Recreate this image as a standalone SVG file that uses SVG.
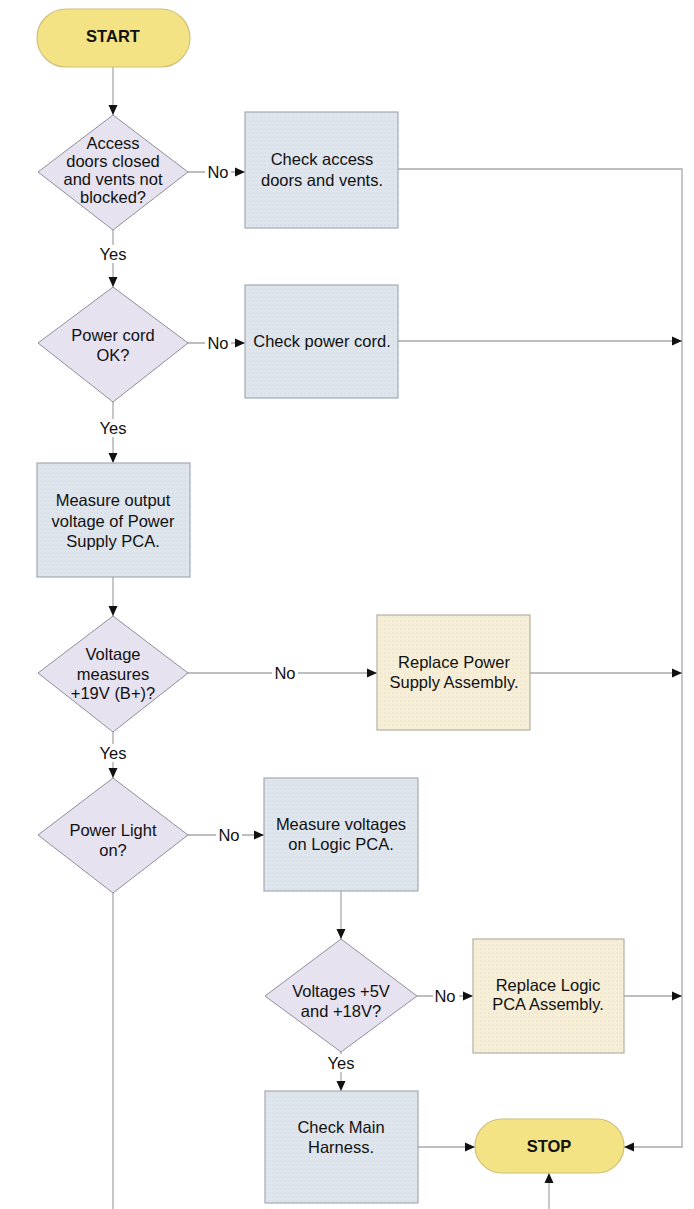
<svg xmlns="http://www.w3.org/2000/svg" width="694" height="1209" viewBox="0 0 694 1209">
<defs>
<style>
.t{font-family:"Liberation Sans",Arial,Helvetica,sans-serif;font-size:16.5px;fill:#111111;text-anchor:middle}
.b{font-weight:bold}
.pill{fill:#f4e384;stroke:#cfc07a;stroke-width:1.2}
.dia{fill:#e6e2f0;stroke:#8f8f9c;stroke-width:1}
.box{fill:url(#dotB);stroke:#a4abb4;stroke-width:1.2}
.tan{fill:url(#dotT);stroke:#b5b0a2;stroke-width:1.2}
.c{fill:none;stroke:#a9a9a9;stroke-width:1.3}
.lbl{fill:#ffffff}
</style>
<pattern id="dotB" width="4" height="4" patternUnits="userSpaceOnUse">
<rect width="4" height="4" fill="#dfe5ec"/>
<circle cx="1" cy="1" r="0.6" fill="#cbd2db"/>
</pattern>
<pattern id="dotT" width="4" height="4" patternUnits="userSpaceOnUse">
<rect width="4" height="4" fill="#f6eed7"/>
<circle cx="1" cy="1" r="0.6" fill="#e3d9bf"/>
</pattern>
<marker id="ar" markerUnits="userSpaceOnUse" markerWidth="11" markerHeight="10" refX="10" refY="5" orient="auto">
<path d="M0,0.5 L10,5 L0,9.5 Z" fill="#111111"/>
</marker>
</defs>
<rect width="694" height="1209" fill="#ffffff"/>

<g id="connectors">
<path class="c" d="M113,67 V115" marker-end="url(#ar)"/>
<path class="c" d="M188,172 H245" marker-end="url(#ar)"/>
<path class="c" d="M398,169 H682 V1147 H624" marker-end="url(#ar)"/>
<path class="c" d="M113,230 V287" marker-end="url(#ar)"/>
<path class="c" d="M188,343 H245" marker-end="url(#ar)"/>
<path class="c" d="M398,341 H682" marker-end="url(#ar)"/>
<path class="c" d="M113,402 V463" marker-end="url(#ar)"/>
<path class="c" d="M113,577 V616" marker-end="url(#ar)"/>
<path class="c" d="M188,673 H377" marker-end="url(#ar)"/>
<path class="c" d="M530,673 H682" marker-end="url(#ar)"/>
<path class="c" d="M113,732 V778" marker-end="url(#ar)"/>
<path class="c" d="M188,835 H264" marker-end="url(#ar)"/>
<path class="c" d="M113,893 V1209"/>
<path class="c" d="M341,891 V939" marker-end="url(#ar)"/>
<path class="c" d="M417,996 H473" marker-end="url(#ar)"/>
<path class="c" d="M624,996 H682" marker-end="url(#ar)"/>
<path class="c" d="M341,1052 V1091" marker-end="url(#ar)"/>
<path class="c" d="M418,1147 H475" marker-end="url(#ar)"/>
<path class="c" d="M549,1209 V1173" marker-end="url(#ar)"/>
<rect class="lbl" x="205" y="162" width="26" height="20"/>
<text class="t" x="218" y="178">No</text>
<rect class="lbl" x="205" y="333" width="26" height="20"/>
<text class="t" x="218" y="349">No</text>
<rect class="lbl" x="272" y="663" width="26" height="20"/>
<text class="t" x="285" y="679">No</text>
<rect class="lbl" x="216" y="825" width="26" height="20"/>
<text class="t" x="229" y="841">No</text>
<rect class="lbl" x="433" y="986" width="26" height="20"/>
<text class="t" x="445" y="1002">No</text>
<rect class="lbl" x="98" y="245" width="30" height="18"/>
<text class="t" x="113" y="260">Yes</text>
<rect class="lbl" x="98" y="419" width="30" height="18"/>
<text class="t" x="113" y="434">Yes</text>
<rect class="lbl" x="98" y="744" width="30" height="18"/>
<text class="t" x="113" y="759">Yes</text>
<rect class="lbl" x="326" y="1054" width="30" height="18"/>
<text class="t" x="341" y="1069">Yes</text>
</g>

<g id="start">
<rect class="pill" x="37" y="9" width="153" height="58" rx="29"/>
<text class="t b" x="113" y="42">START</text>
</g>

<g id="d1">
<polygon class="dia" points="113,115 188,172 113,230 38,172"/>
<text class="t" x="113" y="149">Access</text>
<text class="t" x="113" y="167">doors closed</text>
<text class="t" x="113" y="185">and vents not</text>
<text class="t" x="113" y="203">blocked?</text>
</g>

<g id="b1">
<rect class="box" x="245" y="112" width="153" height="116"/>
<text class="t" x="322" y="165">Check access</text>
<text class="t" x="322" y="186">doors and vents.</text>
</g>

<g id="d2">
<polygon class="dia" points="113,287 188,343 113,402 38,343"/>
<text class="t" x="113" y="341">Power cord</text>
<text class="t" x="113" y="361">OK?</text>
</g>

<g id="b2">
<rect class="box" x="245" y="285" width="153" height="113"/>
<text class="t" x="322" y="347">Check power cord.</text>
</g>

<g id="b3">
<rect class="box" x="37" y="463" width="153" height="114"/>
<text class="t" x="113" y="506">Measure output</text>
<text class="t" x="113" y="527">voltage of Power</text>
<text class="t" x="113" y="547">Supply PCA.</text>
</g>

<g id="d4">
<polygon class="dia" points="113,616 188,673 113,732 38,673"/>
<text class="t" x="113" y="660">Voltage</text>
<text class="t" x="113" y="680">measures</text>
<text class="t" x="113" y="699">+19V (B+)?</text>
</g>

<g id="b4">
<rect class="tan" x="377" y="615" width="153" height="115"/>
<text class="t" x="454" y="668">Replace Power</text>
<text class="t" x="454" y="688">Supply Assembly.</text>
</g>

<g id="d5">
<polygon class="dia" points="113,778 188,835 113,893 38,835"/>
<text class="t" x="113" y="836">Power Light</text>
<text class="t" x="113" y="856">on?</text>
</g>

<g id="b5">
<rect class="box" x="264" y="778" width="154" height="113"/>
<text class="t" x="341" y="830">Measure voltages</text>
<text class="t" x="341" y="850">on Logic PCA.</text>
</g>

<g id="d6">
<polygon class="dia" points="341,939 417,996 341,1052 265,996"/>
<text class="t" x="341" y="997">Voltages +5V</text>
<text class="t" x="341" y="1017">and +18V?</text>
</g>

<g id="b6">
<rect class="tan" x="473" y="939" width="151" height="114"/>
<text class="t" x="548" y="991">Replace Logic</text>
<text class="t" x="548" y="1010">PCA Assembly.</text>
</g>

<g id="b7">
<rect class="box" x="265" y="1091" width="153" height="112"/>
<text class="t" x="341" y="1133">Check Main</text>
<text class="t" x="341" y="1153">Harness.</text>
</g>

<g id="stop">
<rect class="pill" x="475" y="1119" width="149" height="54" rx="27"/>
<text class="t b" x="549" y="1152">STOP</text>
</g>
</svg>
